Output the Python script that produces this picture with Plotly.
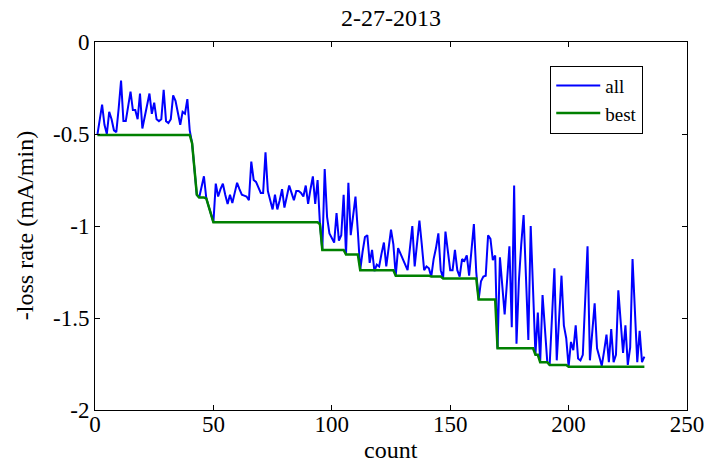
import plotly.graph_objects as go

count = list(range(1, 233))

all_rate = [
    -0.505, -0.43, -0.34, -0.45, -0.50, -0.38, -0.42, -0.48, -0.49, -0.36,
    -0.21, -0.43, -0.43, -0.35, -0.27, -0.37, -0.37, -0.42, -0.28, -0.47,
    -0.40, -0.34, -0.28, -0.39, -0.33, -0.42, -0.43, -0.42, -0.26, -0.43,
    -0.44, -0.42, -0.29, -0.32, -0.38, -0.45, -0.38, -0.39, -0.31, -0.48,
    -0.55, -0.69, -0.83, -0.845, -0.79, -0.73, -0.85, -0.895, -0.94, -0.98,
    -0.77, -0.84, -0.80, -0.77, -0.83, -0.88, -0.83, -0.875, -0.82, -0.765,
    -0.80, -0.83, -0.835, -0.84, -0.86, -0.65, -0.75, -0.76, -0.79, -0.82,
    -0.82, -0.60, -0.81, -0.86, -0.91, -0.83, -0.91, -0.86, -0.80, -0.90,
    -0.84, -0.78, -0.82, -0.86, -0.81, -0.81, -0.82, -0.84, -0.78, -0.88,
    -0.80, -0.73, -0.88, -0.75, -0.99, -1.13, -0.69, -0.95, -1.04, -1.07,
    -1.09, -0.93, -1.08, -1.05, -0.83, -1.155, -0.765, -1.05, -0.95, -0.84,
    -1.03, -1.24, -1.14, -1.06, -1.05, -1.20, -1.13, -1.245, -1.21, -1.22,
    -1.15, -1.09, -1.22, -1.12, -1.02, -1.10, -1.27, -1.12, -1.15, -1.17,
    -1.20, -1.24, -1.12, -1.00, -1.22, -1.10, -0.97, -1.10, -1.24, -1.22,
    -1.23, -1.275, -1.18, -1.12, -1.04, -1.24, -1.285, -1.03, -1.15, -1.24,
    -1.24, -1.13, -1.24, -1.275, -1.18, -1.19, -1.16, -1.27, -1.13, -0.99,
    -1.25, -1.40, -1.30, -1.275, -1.27, -1.05, -1.07, -1.185, -1.16, -1.665,
    -1.17, -1.33, -1.48, -1.30, -1.11, -1.55, -0.78, -1.64, -1.30, -1.10,
    -0.94, -1.28, -1.62, -1.00, -1.35, -1.70, -1.47, -1.74, -1.375, -1.56,
    -1.74, -1.755, -1.50, -1.23, -1.73, -1.50, -1.27, -1.54, -1.61, -1.765,
    -1.63, -1.675, -1.54, -1.72, -1.73, -1.70, -1.40, -1.11, -1.73, -1.58,
    -1.42, -1.665, -1.71, -1.76, -1.68, -1.59, -1.74, -1.56, -1.74, -1.70,
    -1.35, -1.52, -1.69, -1.54, -1.755, -1.66, -1.18, -1.46, -1.74, -1.57,
    -1.74, -1.71,
]

best_rate = (
    [-0.505] * 40
    + [-0.55, -0.69, -0.83, -0.845, -0.845, -0.845, -0.85, -0.895, -0.94]
    + [-0.98] * 45
    + [-0.99]
    + [-1.13] * 10
    + [-1.155] * 6
    + [-1.24] * 15
    + [-1.27] * 15
    + [-1.275] * 5
    + [-1.285] * 15
    + [-1.40] * 8
    + [-1.665] * 16
    + [-1.70] * 2
    + [-1.74] * 4
    + [-1.755] * 8
    + [-1.765] * 33
)

x_ticks = [0, 50, 100, 150, 200, 250]
y_ticks = [0, -0.5, -1, -1.5, -2]
y_tick_text = ["0", "-0.5", "-1", "-1.5", "-2"]

FONT = "Liberation Serif, Times New Roman, serif"

fig = go.Figure()
fig.add_trace(go.Scatter(x=count, y=all_rate, mode="lines", name="all",
                         line=dict(color="#0000FF", width=2)))
fig.add_trace(go.Scatter(x=count, y=best_rate, mode="lines", name="best",
                         line=dict(color="#008000", width=2.5)))

axis_common = dict(showline=True, linecolor="black", linewidth=1, mirror="ticks",
                   ticks="inside", ticklen=5, tickcolor="black", showgrid=False,
                   zeroline=False, automargin=False,
                   tickfont=dict(family=FONT, size=23, color="black"))

fig.update_layout(
    width=718, height=463,
    margin=dict(l=95, r=31, t=42, b=53),
    paper_bgcolor="white", plot_bgcolor="white",
    font=dict(family=FONT, size=23, color="black"),
    title=dict(text="2-27-2013", x=0.5, xref="paper", xanchor="center",
               y=0.962, yanchor="middle", font=dict(family=FONT, size=24, color="black")),
    xaxis=dict(range=[0, 250], tickvals=x_ticks, ticklabelstandoff=-7, **axis_common),
    yaxis=dict(range=[-2, 0], tickvals=y_ticks, ticktext=y_tick_text, **axis_common),
    legend=dict(x=0.769, y=0.936, xanchor="left", yanchor="top",
                bordercolor="black", borderwidth=1, bgcolor="white",
                font=dict(family=FONT, size=19, color="black"),
                tracegroupgap=0, itemwidth=44),
    showlegend=True,
    annotations=[
        dict(text="count", xref="paper", yref="paper", x=0.5, y=-0.108,
             xanchor="center", yanchor="middle", showarrow=False,
             font=dict(family=FONT, size=24, color="black")),
        dict(text="-loss rate (mA/min)", xref="paper", yref="paper", x=-0.118, y=0.5,
             xanchor="center", yanchor="middle", textangle=-90, showarrow=False,
             font=dict(family=FONT, size=24, color="black")),
    ],
)

fig.write_html("out.html")
